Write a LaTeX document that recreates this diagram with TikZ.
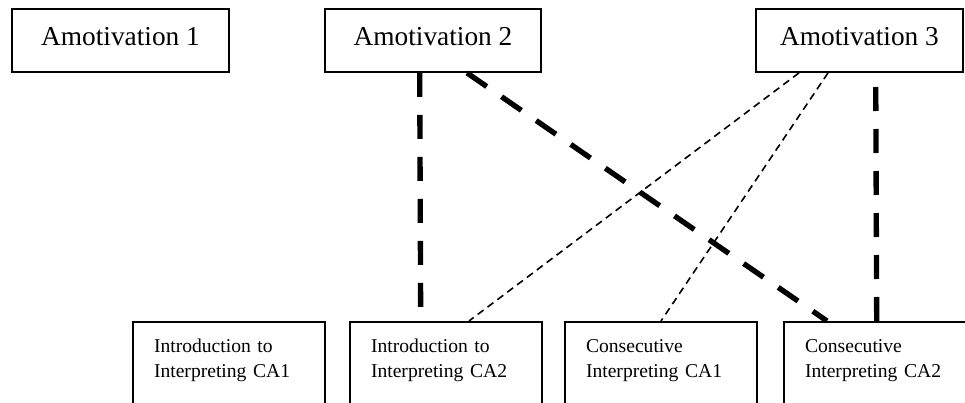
\documentclass[tikz,border=0pt]{standalone}
\usepackage{fontspec}
\setmainfont{Liberation Serif}
\usetikzlibrary{calc}
\begin{document}
\begin{tikzpicture}[x=0.75pt,y=-0.75pt,
  topbox/.style={draw, line width=1.5pt, minimum height=47.25pt, inner sep=0pt,
    font=\fontsize{20.5}{24}\selectfont, text height=14pt, text depth=5.8pt},
  coursebox/.style={draw, line width=1.5pt, anchor=north west, inner xsep=15.75pt,
    inner ysep=0pt, text width=112.5pt, align=left, text height=23pt, text depth=90pt,
    font=\fontsize{14.7}{18.75}\selectfont},
  strong/.style={line width=4pt, dash pattern=on 18pt off 13.5pt},
  weak/.style={line width=1.2pt, dash pattern=on 5.5pt off 3.75pt}]
\useasboundingbox (0,0) rectangle (965,403);

% motivation levels
\node[topbox, minimum width=162.75pt] (A1) at (120.5,40.4) {Amotivation 1};
\node[topbox, minimum width=162pt]    (A2) at (433,40.4)   {Amotivation 2};
\node[topbox, minimum width=155.25pt] (A3) at (859.5,40.4) {Amotivation 3};

% course assessments (open at the bottom edge)
\node[coursebox] (B1) at (132,321) {Introduction to\\Interpreting CA1};
\node[coursebox] (B2) at (349,321) {Introduction to\\Interpreting CA2};
\node[coursebox] (B3) at (564,321) {Consecutive\\Interpreting CA1};
\node[coursebox] (B4) at (783,321) {Consecutive\\Interpreting CA2};

% links
\draw[strong] ($(A2.south west)+(95.7,0)$) -- ($(B2.north west)+(71.7,0)$);
\draw[strong] ($(A2.south west)+(143,0)$) -- ($(B4.north west)+(44,0)$);
\draw[weak] ($(A3.south west)+(44,0)$) -- ($(B2.north west)+(120,0)$);
\draw[weak] ($(A3.south west)+(73,0)$) -- ($(B3.north west)+(97,0)$);
\draw[strong] ($(B4.north west)+(93.7,0)$) -- ($(A3.south west)+(120.7,0)$);
\end{tikzpicture}
\end{document}
